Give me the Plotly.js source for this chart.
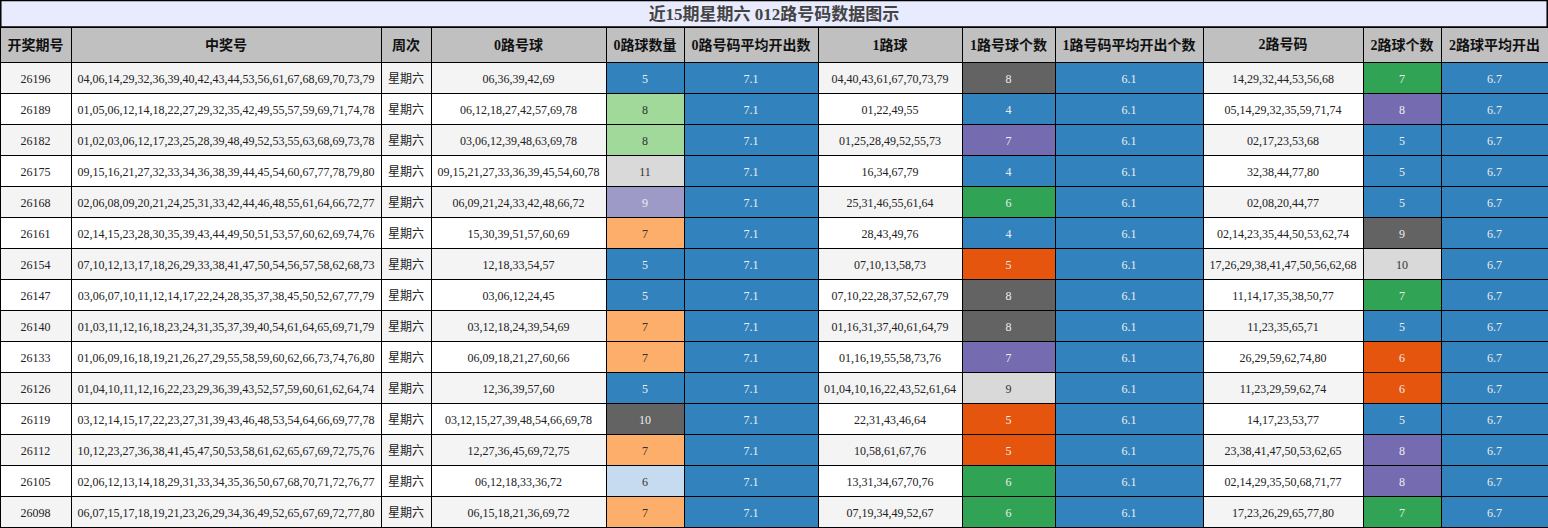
<!DOCTYPE html>
<html>
<head>
<meta charset="utf-8">
<script src="https://cdn.plot.ly/plotly-3.0.1.min.js"></script>
<style>html,body{margin:0;padding:0;background:#fff;}#chart{width:1548px;height:528px;}</style>
</head>
<body>
<div id="chart"></div>
<script>
const chartTitle = "近15期星期六 012路号码数据图示";
const headers = ["开奖期号","中奖号","周次","0路号球","0路球数量","0路号码平均开出数","1路球","1路号球个数","1路号码平均开出个数","2路号码","2路球个数","2路球平均开出"];
const periods = ["26196","26189","26182","26175","26168","26161","26154","26147","26140","26133","26126","26119","26112","26105","26098"];
const winning = [
"04,06,14,29,32,36,39,40,42,43,44,53,56,61,67,68,69,70,73,79",
"01,05,06,12,14,18,22,27,29,32,35,42,49,55,57,59,69,71,74,78",
"01,02,03,06,12,17,23,25,28,39,48,49,52,53,55,63,68,69,73,78",
"09,15,16,21,27,32,33,34,36,38,39,44,45,54,60,67,77,78,79,80",
"02,06,08,09,20,21,24,25,31,33,42,44,46,48,55,61,64,66,72,77",
"02,14,15,23,28,30,35,39,43,44,49,50,51,53,57,60,62,69,74,76",
"07,10,12,13,17,18,26,29,33,38,41,47,50,54,56,57,58,62,68,73",
"03,06,07,10,11,12,14,17,22,24,28,35,37,38,45,50,52,67,77,79",
"01,03,11,12,16,18,23,24,31,35,37,39,40,54,61,64,65,69,71,79",
"01,06,09,16,18,19,21,26,27,29,55,58,59,60,62,66,73,74,76,80",
"01,04,10,11,12,16,22,23,29,36,39,43,52,57,59,60,61,62,64,74",
"03,12,14,15,17,22,23,27,31,39,43,46,48,53,54,64,66,69,77,78",
"10,12,23,27,36,38,41,45,47,50,53,58,61,62,65,67,69,72,75,76",
"02,06,12,13,14,18,29,31,33,34,35,36,50,67,68,70,71,72,76,77",
"06,07,15,17,18,19,21,23,26,29,34,36,49,52,65,67,69,72,77,80"];
const weekday = Array(15).fill("星期六");
const zeroBalls = ["06,36,39,42,69","06,12,18,27,42,57,69,78","03,06,12,39,48,63,69,78","09,15,21,27,33,36,39,45,54,60,78","06,09,21,24,33,42,48,66,72","15,30,39,51,57,60,69","12,18,33,54,57","03,06,12,24,45","03,12,18,24,39,54,69","06,09,18,21,27,60,66","12,36,39,57,60","03,12,15,27,39,48,54,66,69,78","12,27,36,45,69,72,75","06,12,18,33,36,72","06,15,18,21,36,69,72"];
const zeroCount = [5,8,8,11,9,7,5,5,7,7,5,10,7,6,7];
const zeroAvg = Array(15).fill("7.1");
const oneBalls = ["04,40,43,61,67,70,73,79","01,22,49,55","01,25,28,49,52,55,73","16,34,67,79","25,31,46,55,61,64","28,43,49,76","07,10,13,58,73","07,10,22,28,37,52,67,79","01,16,31,37,40,61,64,79","01,16,19,55,58,73,76","01,04,10,16,22,43,52,61,64","22,31,43,46,64","10,58,61,67,76","13,31,34,67,70,76","07,19,34,49,52,67"];
const oneCount = [8,4,7,4,6,4,5,8,8,7,9,5,5,6,6];
const oneAvg = Array(15).fill("6.1");
const twoBalls = ["14,29,32,44,53,56,68","05,14,29,32,35,59,71,74","02,17,23,53,68","32,38,44,77,80","02,08,20,44,77","02,14,23,35,44,50,53,62,74","17,26,29,38,41,47,50,56,62,68","11,14,17,35,38,50,77","11,23,35,65,71","26,29,59,62,74,80","11,23,29,59,62,74","14,17,23,53,77","23,38,41,47,50,53,62,65","02,14,29,35,50,68,71,77","17,23,26,29,65,77,80"];
const twoCount = [7,8,5,5,5,9,10,7,5,6,6,5,8,8,7];
const twoAvg = Array(15).fill("6.7");

// style maps
const zeroMap = {5:"#3182bd",6:"#c6dbef",7:"#fdae6b",8:"#a1d99b",9:"#9e9ac8",10:"#636363",11:"#d9d9d9"};
const oneMap = {4:"#3182bd",5:"#e6550d",6:"#31a354",7:"#756bb1",8:"#636363",9:"#d9d9d9"};
const twoMap = {5:"#3182bd",6:"#e6550d",7:"#31a354",8:"#756bb1",9:"#636363",10:"#d9d9d9"};
const lightBg = ["#c6dbef","#fdae6b","#a1d99b","#d9d9d9"];
const stripe = periods.map((_, i) => i % 2 === 0 ? "#f4f4f4" : "#ffffff");
const dark = "#222222", light = "#eeeeee", blue = "#3182bd";
const countFill = (arr, map) => arr.map(v => map[v]);
const countFont = (arr, map) => arr.map(v => lightBg.includes(map[v]) ? "#333333" : light);
const solid = (c) => periods.map(() => c);

const columns = [periods, winning, weekday, zeroBalls, zeroCount, zeroAvg, oneBalls, oneCount, oneAvg, twoBalls, twoCount, twoAvg];
const fills = [stripe, stripe, stripe, stripe, countFill(zeroCount, zeroMap), solid(blue), stripe, countFill(oneCount, oneMap), solid(blue), stripe, countFill(twoCount, twoMap), solid(blue)];
const fontColors = [solid(dark), solid(dark), solid(dark), solid(dark), countFont(zeroCount, zeroMap), solid(light), solid(dark), countFont(oneCount, oneMap), solid(light), solid(dark), countFont(twoCount, twoMap), solid(light)];

const fam = "'Liberation Serif', 'Times New Roman', 'Noto Sans CJK SC', serif";
const W = 1548, H = 528;
const titleH = 27;
const HEADER_H = 35, CELL_H = 31;

const trace = {
  type: "table",
  domain: {x: [0, 1], y: [0, (H - titleH) / H]},
  columnwidth: [71, 310, 50, 175, 78, 134, 144, 93, 148, 160, 78, 107],
  header: {
    values: headers.map(h => "<b>" + h + "</b>"),
    align: "center",
    height: HEADER_H,
    fill: {color: "#c0c0c0"},
    line: {color: "#000000", width: 1},
    font: {family: fam, size: 14, color: "#111111"}
  },
  cells: {
    values: columns,
    align: "center",
    height: CELL_H,
    fill: {color: fills},
    line: {color: "#000000", width: 1},
    font: {family: fam, size: 12, color: fontColors}
  }
};

const layout = {
  width: W, height: H,
  margin: {l: 0, r: 0, t: 0, b: 0, pad: 0},
  paper_bgcolor: "#ffffff",
  title: {
    text: "<b>" + chartTitle + "</b>",
    x: 0.5, xanchor: "center",
    y: 1 - 14.5 / H, yanchor: "middle", yref: "container",
    font: {family: fam, size: 17, color: "#444444"}
  },
  shapes: [
    {type: "rect", xref: "paper", yref: "paper", x0: 0.0005, x1: 0.9995, y0: (H - titleH) / H, y1: 0.999,
     fillcolor: "#e8eafd", line: {color: "#000000", width: 1.5}, layer: "below"}
  ]
};

// vertically centre the cell text (Plotly tables top-align text)
function centreText() {
  document.querySelectorAll('#chart .cell-text-holder').forEach(function (holder) {
    if (holder.getAttribute('data-shifted')) return;
    const cell = holder.parentNode;
    const rect = cell.querySelector('.cell-rect');
    const h = rect ? parseFloat(rect.getAttribute('height')) : CELL_H;
    const dy = h > CELL_H + 2 ? 1.5 : 4;
    const wrap = document.createElementNS('http://www.w3.org/2000/svg', 'g');
    wrap.setAttribute('transform', 'translate(0,' + dy + ')');
    while (holder.firstChild) wrap.appendChild(holder.firstChild);
    holder.appendChild(wrap);
    holder.setAttribute('data-shifted', '1');
  });
}

Plotly.newPlot("chart", [trace], layout, {displayModeBar: false, staticPlot: true}).then(function () {
  centreText();
  setTimeout(centreText, 50);
  setTimeout(centreText, 300);
});
</script>
</body>
</html>
